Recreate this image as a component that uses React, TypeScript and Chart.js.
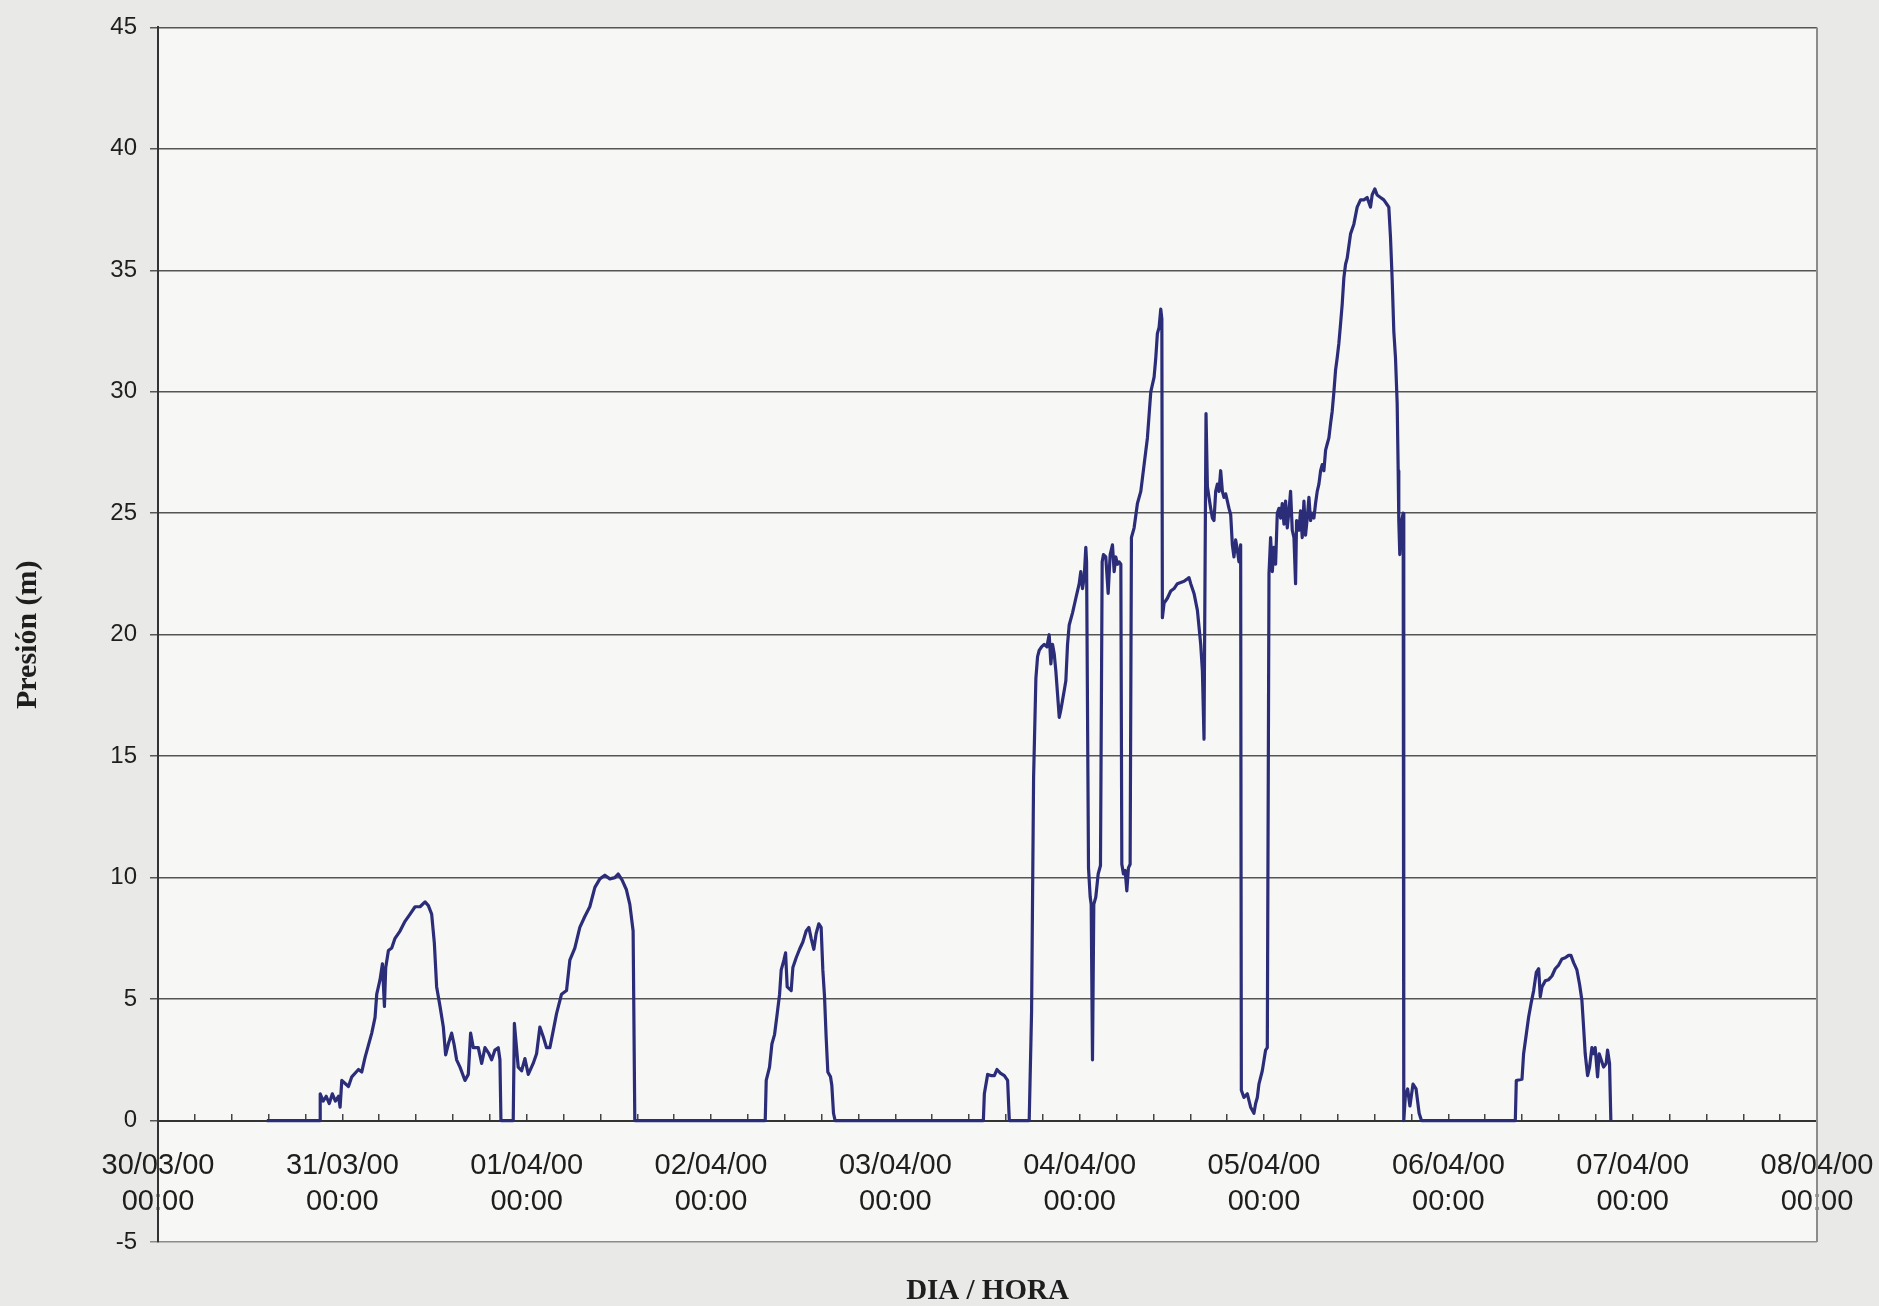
import React, { useEffect, useRef } from 'react';
import { Chart, registerables } from 'chart.js';

Chart.register(...registerables);

// Time axis: hours since 30/03/00 00:00, one label per day.
const DAY_LABELS = ['30/03/00', '31/03/00', '01/04/00', '02/04/00', '03/04/00', '04/04/00', '05/04/00', '06/04/00', '07/04/00', '08/04/00'];
const TIME_LABEL = '00:00';
const X_MAX_HOURS = 216;
const MINOR_STEP_HOURS = 4.8;

// Pressure episodes (hours, metres).
const ep1Hours = [14.17, 21.1, 21.12, 21.5, 21.9, 22.3, 22.7, 23.1, 23.5, 23.71, 23.93, 24.8, 25.23, 26.1, 26.53, 26.96, 27.83, 28.26, 28.48, 28.91, 29.22, 29.48, 29.65, 30.0, 30.43, 30.86, 31.51, 32.16, 32.82, 33.47, 34.12, 34.77, 35.2, 35.63, 35.98, 36.28, 36.72, 37.15, 37.45, 37.8, 38.23, 38.54, 38.88, 39.32, 39.97, 40.4, 40.7, 41.05, 41.7, 42.14, 42.57, 43.09, 43.44, 43.87, 44.3, 44.52, 44.65, 46.25, 46.4, 46.9, 47.34, 47.77, 48.21, 48.85, 49.29, 49.72, 50.16, 50.59, 51.02, 51.46, 51.89, 52.54, 53.19, 53.62, 54.27, 54.92, 55.57, 56.22, 56.88, 57.53, 58.18, 58.83, 59.48, 59.91, 60.43, 60.99, 61.43, 61.86, 62.08];
const ep1Pressure = [0, 0, 1.1, 0.8, 1.0, 0.7, 1.1, 0.8, 1.0, 0.55, 1.65, 1.4, 1.8, 2.1, 2.0, 2.6, 3.6, 4.25, 5.2, 5.8, 6.45, 4.7, 6.3, 7.0, 7.1, 7.5, 7.8, 8.2, 8.5, 8.8, 8.8, 9.0, 8.85, 8.5, 7.3, 5.5, 4.7, 3.85, 2.7, 3.15, 3.6, 3.15, 2.5, 2.2, 1.65, 1.9, 3.6, 3.0, 3.0, 2.35, 3.0, 2.75, 2.5, 2.9, 3.0, 2.5, 0, 0, 4.0, 2.2, 2.05, 2.55, 1.9, 2.35, 2.75, 3.85, 3.45, 3.0, 3.0, 3.7, 4.4, 5.2, 5.35, 6.6, 7.1, 7.95, 8.4, 8.8, 9.6, 9.95, 10.1, 9.95, 10.0, 10.15, 9.9, 9.5, 8.9, 7.8, 0];

const ep2Hours = [79.06, 79.19, 79.62, 79.93, 80.28, 80.62, 80.93, 81.14, 81.49, 81.71, 81.92, 82.44, 82.66, 83.09, 83.53, 83.96, 84.39, 84.74, 85.04, 85.39, 85.69, 86.04, 86.34, 86.56, 86.78, 86.99, 87.21, 87.56, 87.73, 87.95, 88.16];
const ep2Pressure = [0, 1.65, 2.2, 3.15, 3.55, 4.4, 5.2, 6.2, 6.6, 6.9, 5.5, 5.35, 6.3, 6.7, 7.05, 7.35, 7.8, 7.95, 7.5, 7.05, 7.7, 8.1, 7.95, 6.2, 5.1, 3.45, 2.0, 1.8, 1.45, 0.3, 0];

const ep3Hours = [107.46, 107.59, 108.02, 108.45, 108.89, 109.23, 109.67, 110.19, 110.62, 110.84];
const ep3Pressure = [0, 1.1, 1.9, 1.85, 1.85, 2.1, 1.95, 1.85, 1.65, 0];

const ep4Hours = [113.43, 113.74, 114.0, 114.3, 114.52, 114.73, 115.04, 115.38, 115.73, 116.03, 116.25, 116.47, 116.69, 116.9, 117.12, 117.34, 117.55, 117.77, 117.99, 118.2, 118.42, 118.64, 119.07, 119.5, 119.94, 120.15, 120.37, 120.59, 120.8, 120.9, 121.15, 121.37, 121.5, 121.67, 121.84, 122.1, 122.41, 122.71, 122.93, 123.1, 123.4, 123.71, 123.97, 124.27, 124.49, 124.7, 124.92, 125.14, 125.36, 125.49, 125.7, 125.92, 126.14, 126.35, 126.57, 126.74, 127.09, 127.52, 127.96, 128.39, 128.82, 129.26, 129.69, 129.91, 130.12, 130.34, 130.56, 130.7, 130.77, 130.99, 131.42, 131.86, 132.29, 132.72, 133.16, 133.59, 134.03, 134.24, 134.46, 134.89, 135.33, 135.76, 135.98, 136.19, 136.45, 136.63, 136.84, 137.06, 137.28, 137.49, 137.71, 137.93, 138.14, 138.36, 138.58, 138.79, 139.01, 139.23, 139.44, 139.66, 139.88, 140.09, 140.31, 140.53, 140.74, 140.96, 141.05, 141.39, 141.83, 142.26, 142.69, 142.91, 143.13, 143.34, 143.78, 144.21, 144.43, 144.65, 144.86, 145.08, 145.3, 145.51, 145.73, 145.95, 146.16, 146.38, 146.6, 146.81, 147.03, 147.25, 147.46, 147.68, 147.9, 148.11, 148.24, 148.55, 148.76, 148.98, 149.2, 149.41, 149.63, 149.85, 150.06, 150.28, 150.5, 150.71, 150.93, 151.15, 151.37, 151.58, 151.8, 152.02, 152.23, 152.45, 152.67, 152.88, 153.1, 153.32, 153.53, 153.75, 153.97, 154.18, 154.4, 154.62, 154.83, 155.27, 155.7, 156.13, 156.57, 157.0, 157.43, 157.87, 158.08, 158.43, 158.73, 159.17, 159.6, 160.04, 160.25, 160.47, 160.69, 160.9, 161.12, 161.34, 161.47, 161.55, 161.68, 161.86, 162.12, 162.2, 162.4, 162.7, 163.0, 163.4, 163.8, 164.2, 164.5];
const ep4Pressure = [0, 4.5, 14.1, 18.2, 19.1, 19.35, 19.5, 19.6, 19.5, 20.0, 18.8, 19.6, 19.2, 18.5, 17.55, 16.6, 16.9, 17.3, 17.7, 18.1, 19.6, 20.4, 20.9, 21.5, 22.1, 22.6, 21.9, 22.35, 23.6, 23.0, 10.4, 9.2, 8.9, 2.5, 8.9, 9.2, 10.15, 10.5, 23.0, 23.3, 23.2, 21.7, 23.3, 23.7, 22.6, 23.2, 22.9, 23.0, 22.9, 10.55, 10.15, 10.3, 9.45, 10.4, 10.55, 24.0, 24.4, 25.4, 25.9, 27.0, 28.1, 30.0, 30.6, 31.4, 32.4, 32.65, 33.4, 33.0, 20.7, 21.3, 21.5, 21.8, 21.9, 22.1, 22.15, 22.2, 22.3, 22.35, 22.1, 21.7, 21.0, 19.6, 18.5, 15.7, 29.1, 26.1, 25.65, 25.2, 24.8, 24.7, 25.9, 26.2, 25.9, 26.75, 25.9, 25.65, 25.8, 25.5, 25.2, 24.95, 23.7, 23.2, 23.9, 23.5, 23.0, 23.7, 1.25, 0.95, 1.1, 0.55, 0.3, 0.7, 0.95, 1.5, 2.05, 2.9, 3.0, 22.5, 24.0, 22.6, 23.6, 22.9, 25.0, 25.2, 24.8, 25.4, 24.55, 25.5, 24.4, 25.1, 25.9, 24.3, 24.0, 22.1, 24.7, 24.3, 25.1, 24.0, 25.5, 24.1, 24.8, 25.65, 24.7, 25.0, 24.8, 25.4, 25.9, 26.2, 26.75, 27.0, 26.75, 27.6, 27.85, 28.1, 28.7, 29.2, 30.0, 30.9, 31.4, 32.0, 32.8, 33.6, 34.7, 35.25, 35.5, 36.5, 36.9, 37.6, 37.9, 37.9, 38.0, 37.6, 38.1, 38.35, 38.1, 38.0, 37.9, 37.7, 37.6, 36.35, 34.6, 32.5, 31.4, 29.5, 26.75, 24.7, 23.3, 24.6, 25.0, 0, 1.0, 1.3, 0.6, 1.5, 1.3, 0.3, 0];

const ep5Hours = [176.72, 176.85, 177.59, 177.8, 178.15, 178.45, 178.76, 179.11, 179.45, 179.76, 179.97, 180.19, 180.62, 181.06, 181.49, 181.92, 182.36, 182.79, 183.22, 183.66, 183.96, 184.31, 184.74, 185.09, 185.39, 185.61, 185.82, 186.13, 186.39, 186.69, 186.91, 187.12, 187.43, 187.64, 187.9, 188.21, 188.55, 188.73, 188.99, 189.16];
const ep5Pressure = [0, 1.65, 1.7, 2.75, 3.55, 4.25, 4.8, 5.35, 6.1, 6.25, 5.1, 5.5, 5.75, 5.8, 5.95, 6.25, 6.4, 6.65, 6.7, 6.8, 6.8, 6.5, 6.2, 5.6, 4.95, 3.85, 2.75, 1.85, 2.2, 3.0, 2.75, 3.0, 1.8, 2.75, 2.5, 2.2, 2.35, 2.9, 2.35, 0];

const EPISODES: [number[], number[]][] = [
  [ep1Hours, ep1Pressure],
  [ep2Hours, ep2Pressure],
  [ep3Hours, ep3Pressure],
  [ep4Hours, ep4Pressure],
  [ep5Hours, ep5Pressure],
];

const PAGE_BG = '#e9e9e8';
const PLOT_BG = '#f7f7f6';
const LINE_COLOR = '#2b2d78';
const TEXT_COLOR = '#1e1e1e';
const SANS = 'Liberation Sans, Arial, sans-serif';
const SERIF = 'Liberation Serif, Times New Roman, serif';

const framePlugin = {
  id: 'frame',
  beforeDraw(chart: any) {
    const { ctx, chartArea, width, height } = chart;
    ctx.save();
    ctx.fillStyle = PAGE_BG;
    ctx.fillRect(0, 0, width, height);
    ctx.fillStyle = PLOT_BG;
    ctx.fillRect(chartArea.left, chartArea.top, chartArea.right - chartArea.left, chartArea.bottom - chartArea.top);
    ctx.restore();
  },
  beforeDatasetsDraw(chart: any) {
    const { ctx, chartArea } = chart;
    ctx.save();
    ctx.strokeStyle = '#8c8c8c';
    ctx.lineWidth = 2;
    ctx.beginPath();
    ctx.moveTo(chartArea.right, chartArea.top);
    ctx.lineTo(chartArea.right, chartArea.bottom);
    ctx.stroke();
    ctx.restore();
  },
};

export default function App() {
  const canvasRef = useRef<HTMLCanvasElement | null>(null);

  useEffect(() => {
    if (!canvasRef.current) return;
    const points: { x: number; y: number }[] = [];
    EPISODES.forEach(([hours, values]) => {
      hours.forEach((h, i) => points.push({ x: h, y: values[i] }));
    });
    const tickHours: number[] = [];
    for (let i = 0; i * MINOR_STEP_HOURS <= X_MAX_HOURS + 1e-9; i++) {
      tickHours.push(Math.round(i * MINOR_STEP_HOURS * 10) / 10);
    }

    const chart = new Chart(canvasRef.current, {
      type: 'line',
      data: {
        datasets: [
          {
            data: points,
            borderColor: LINE_COLOR,
            borderWidth: 3.2,
            pointRadius: 0,
            tension: 0,
            fill: false,
            borderJoinStyle: 'round',
          },
        ],
      },
      plugins: [framePlugin],
      options: {
        animation: false,
        responsive: false,
        maintainAspectRatio: false,
        layout: { padding: { top: 26, right: 62, bottom: 0, left: 0 } },
        plugins: { legend: { display: false }, tooltip: { enabled: false } },
        scales: {
          x: {
            type: 'linear',
            position: { y: 0 },
            min: 0,
            max: X_MAX_HOURS,
            afterBuildTicks: (scale: any) => {
              scale.ticks = tickHours.map((v) => ({ value: v }));
            },
            grid: { drawOnChartArea: false, drawTicks: true, tickLength: -8, color: '#444', lineWidth: 1.5 },
            border: { display: true, color: '#333', width: 2 },
            ticks: {
              autoSkip: false,
              maxRotation: 0,
              minRotation: 0,
              padding: -1,
              color: TEXT_COLOR,
              font: { family: SANS, size: 29, lineHeight: 1.25 },
              callback: (value: any) => {
                const v = Number(value);
                const d = Math.round(v / 24);
                // leading blank line keeps the date clear of the axis
                return Math.abs(v - d * 24) < 1e-6 ? ['', DAY_LABELS[d], TIME_LABEL] : '';
              },
            },
          },
          xTitle: {
            type: 'linear',
            axis: 'x',
            position: 'bottom',
            min: 0,
            max: X_MAX_HOURS,
            ticks: { display: false },
            grid: { display: false },
            border: { display: false },
            title: {
              display: true,
              text: 'DIA / HORA',
              color: TEXT_COLOR,
              font: { family: SERIF, weight: 'bold', size: 29, lineHeight: 1 },
              padding: 0,
            },
            afterFit: (scale: any) => {
              scale.height = 64;
            },
          },
          y: {
            type: 'linear',
            min: -5,
            max: 45,
            ticks: {
              stepSize: 5,
              padding: 13,
              color: TEXT_COLOR,
              font: { family: SANS, size: 24 },
            },
            grid: {
              color: (ctx: any) => (ctx.tick && ctx.tick.value === -5 ? '#8c8c8c' : '#555'),
              lineWidth: 1.5,
              tickLength: 8,
            },
            border: { display: true, color: '#333', width: 2 },
            title: {
              display: true,
              text: 'Presión (m)',
              color: TEXT_COLOR,
              font: { family: SERIF, weight: 'bold', size: 30, lineHeight: 1.2 },
              padding: { top: 10, bottom: 0 },
            },
            afterFit: (scale: any) => {
              scale.width = 158;
            },
          },
        },
      },
    } as any);

    return () => chart.destroy();
  }, []);

  return (
    <div style={{ position: 'absolute', left: 0, top: 0, width: 1879, height: 1306, background: PAGE_BG }}>
      <canvas ref={canvasRef} width={1879} height={1306} style={{ width: 1879, height: 1306, display: 'block' }} />
    </div>
  );
}
